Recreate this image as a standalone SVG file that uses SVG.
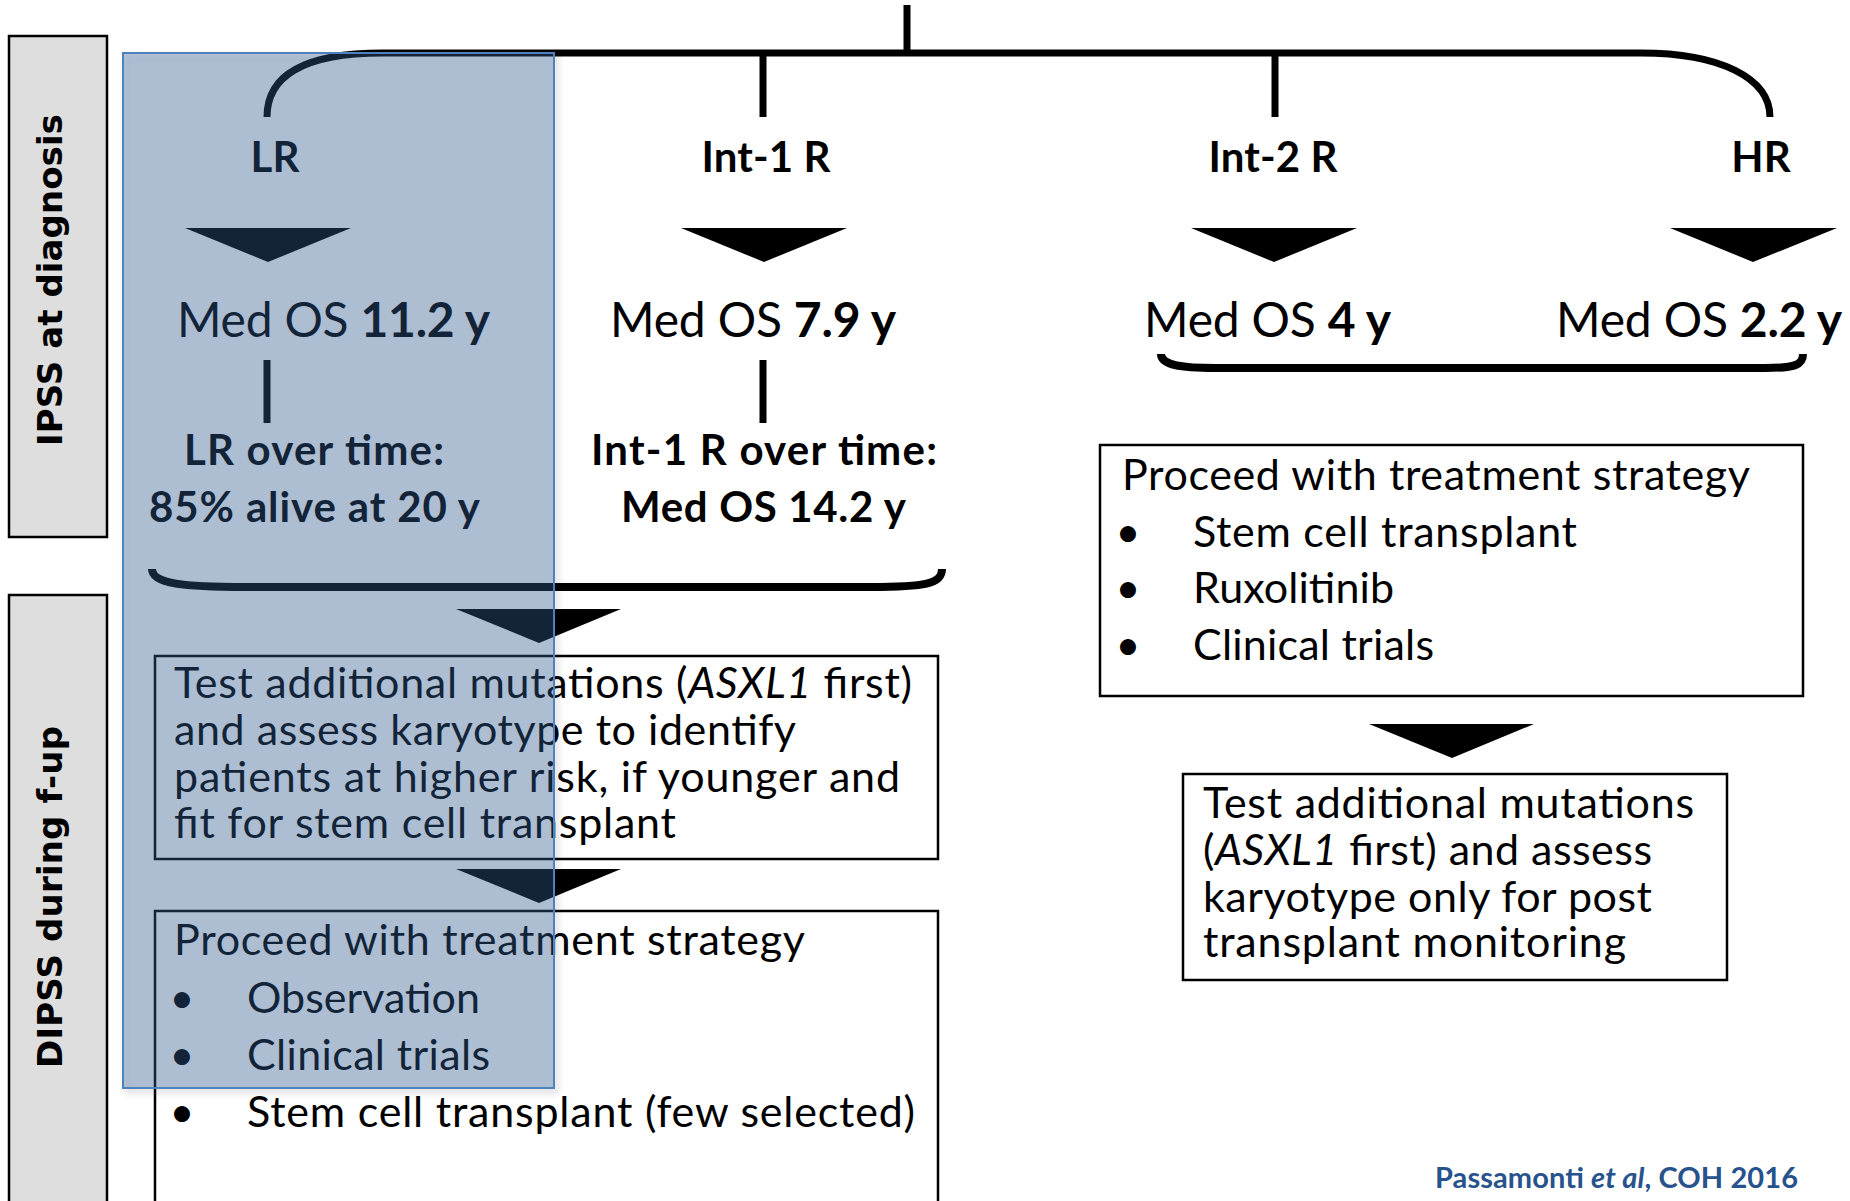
<svg xmlns="http://www.w3.org/2000/svg" width="1850" height="1201" viewBox="0 0 1850 1201">
  <style>
    .band { fill: #dedede; stroke: #000; stroke-width: 2.5; }
    .band-label { font-family: "DejaVu Sans", Verdana, sans-serif; font-weight: bold; font-size: 34px; fill: #000; }
    .wire { fill: none; stroke: #000; stroke-width: 7; }
    .brace { fill: none; stroke: #000; stroke-width: 8; }
    .head { fill: #000; }
    .box { fill: #fff; stroke: #000; stroke-width: 2.5; }
    .t { font-family: Lato, "Open Sans", sans-serif; fill: #000; }
    .risk { font-size: 42px; font-weight: bold; }
    .os { font-size: 48px; }
    .over { font-size: 42px; font-weight: bold; }
    .body { font-size: 43px; }
    .b { font-weight: bold; }
    .i { font-style: italic; }
    .cite { font-family: Lato, "Open Sans", sans-serif; font-size: 29px; font-weight: bold; fill: #27528c; }
  </style>
  <defs>
    <filter id="shadow" x="-5%" y="-5%" width="115%" height="115%">
      <feDropShadow dx="3" dy="4" stdDeviation="3" flood-color="#000" flood-opacity="0.2"/>
    </filter>
  </defs>

  <rect width="1850" height="1201" fill="#fff"/>

  <!-- side bands -->
  <g id="band-ipss">
    <rect class="band" x="9" y="36" width="98" height="501"/>
    <text class="band-label" transform="translate(62,280) rotate(-90)" text-anchor="middle" textLength="332">IPSS at diagnosis</text>
  </g>
  <g id="band-dipss">
    <rect class="band" x="9" y="595" width="98" height="620"/>
    <text class="band-label" transform="translate(62,897) rotate(-90)" text-anchor="middle" textLength="342">DIPSS during f-up</text>
  </g>

  <!-- connectors -->
  <g id="connectors">
    <line class="wire" x1="907" y1="5" x2="907" y2="53"/>
    <path class="wire" d="M267,117 C267,78 300,53 383,53 L1641,53 C1720,53 1770,78 1770,117"/>
    <line class="wire" x1="763" y1="53" x2="763" y2="117"/>
    <line class="wire" x1="1275" y1="53" x2="1275" y2="117"/>
    <line class="wire" x1="267" y1="360" x2="267" y2="423"/>
    <line class="wire" x1="763" y1="360" x2="763" y2="423"/>
    <path class="brace" d="M152,569 C152,584 185,587 245,587 L870,587 C925,587 942,584 942,569"/>
    <path class="brace" d="M1161,354 C1161,365 1180,368 1215,368 L1765,368 C1795,368 1803,365 1803,354"/>
    <polygon class="head" points="185,228 351,228 268,262"/>
    <polygon class="head" points="681,228 847,228 764,262"/>
    <polygon class="head" points="1191,228 1357,228 1274,262"/>
    <polygon class="head" points="1670,228 1837,228 1753,262"/>
    <polygon class="head" points="456,609 621,609 539,643"/>
    <polygon class="head" points="456,869 621,869 539,903"/>
    <polygon class="head" points="1369,724 1534,724 1452,758"/>
  </g>

  <!-- risk groups -->
  <g id="risk-lr">
    <text class="t risk" x="275" y="172" text-anchor="middle">LR</text>
    <text class="t os" x="177" y="337" textLength="313">Med OS <tspan class="b">11.2 y</tspan></text>
    <text class="t over" x="184" y="465" textLength="260">LR over time:</text>
    <text class="t over" x="149" y="522" textLength="331">85% alive at 20 y</text>
  </g>
  <g id="risk-int1">
    <text class="t risk" x="766" y="172" text-anchor="middle" textLength="129">Int-1 R</text>
    <text class="t os" x="610" y="337" textLength="286">Med OS <tspan class="b">7.9 y</tspan></text>
    <text class="t over" x="591" y="465" textLength="346">Int-1 R over time:</text>
    <text class="t over" x="621" y="522" textLength="285">Med OS 14.2 y</text>
  </g>
  <g id="risk-int2">
    <text class="t risk" x="1273" y="172" text-anchor="middle" textLength="129">Int-2 R</text>
    <text class="t os" x="1144" y="337" textLength="247">Med OS <tspan class="b">4 y</tspan></text>
  </g>
  <g id="risk-hr">
    <text class="t risk" x="1761" y="172" text-anchor="middle">HR</text>
    <text class="t os" x="1556" y="337" textLength="286">Med OS <tspan class="b">2.2 y</tspan></text>
  </g>

  <!-- follow-up boxes, lower risk -->
  <g id="box-test-low">
    <rect class="box" x="155" y="656" width="783" height="203"/>
    <text class="t body" x="174" y="698" textLength="738">Test additional mutations (<tspan class="i">ASXL1</tspan> first)</text>
    <text class="t body" x="174" y="745" textLength="622">and assess karyotype to identify</text>
    <text class="t body" x="174" y="792" textLength="726">patients at higher risk, if younger and</text>
    <text class="t body" x="174" y="838" textLength="502">fit for stem cell transplant</text>
  </g>
  <g id="box-treat-low">
    <rect class="box" x="155" y="911" width="783" height="310"/>
    <text class="t body" x="174" y="955" textLength="631">Proceed with treatment strategy</text>
    <text class="t body" x="182" y="1013" text-anchor="middle">•</text>
    <text class="t body" x="247" y="1013" textLength="233">Observation</text>
    <text class="t body" x="182" y="1070" text-anchor="middle">•</text>
    <text class="t body" x="247" y="1070" textLength="243">Clinical trials</text>
    <text class="t body" x="182" y="1127" text-anchor="middle">•</text>
    <text class="t body" x="247" y="1127" textLength="668">Stem cell transplant (few selected)</text>
  </g>

  <!-- follow-up boxes, higher risk -->
  <g id="box-treat-high">
    <rect class="box" x="1100" y="445" width="703" height="251"/>
    <text class="t body" x="1122" y="490" textLength="628">Proceed with treatment strategy</text>
    <text class="t body" x="1128" y="547" text-anchor="middle">•</text>
    <text class="t body" x="1193" y="547" textLength="384">Stem cell transplant</text>
    <text class="t body" x="1128" y="603" text-anchor="middle">•</text>
    <text class="t body" x="1193" y="603" textLength="201">Ruxolitinib</text>
    <text class="t body" x="1128" y="660" text-anchor="middle">•</text>
    <text class="t body" x="1193" y="660" textLength="241">Clinical trials</text>
  </g>
  <g id="box-test-high">
    <rect class="box" x="1183" y="774" width="544" height="206"/>
    <text class="t body" x="1203" y="818" textLength="491">Test additional mutations</text>
    <text class="t body" x="1203" y="865" textLength="449">(<tspan class="i">ASXL1</tspan> first) and assess</text>
    <text class="t body" x="1203" y="912" textLength="449">karyotype only for post</text>
    <text class="t body" x="1203" y="957" textLength="423">transplant monitoring</text>
  </g>

  <!-- translucent highlight over the LR column -->
  <g id="highlight">
    <rect x="123" y="53" width="431" height="1035" fill="#345f95" fill-opacity="0.35" stroke="#4f81bd" stroke-width="2" filter="url(#shadow)"/>
  </g>

  <g id="citation">
    <text class="cite" x="1435" y="1188" textLength="363">Passamonti <tspan font-style="italic">et al</tspan>, COH 2016</text>
  </g>
</svg>
